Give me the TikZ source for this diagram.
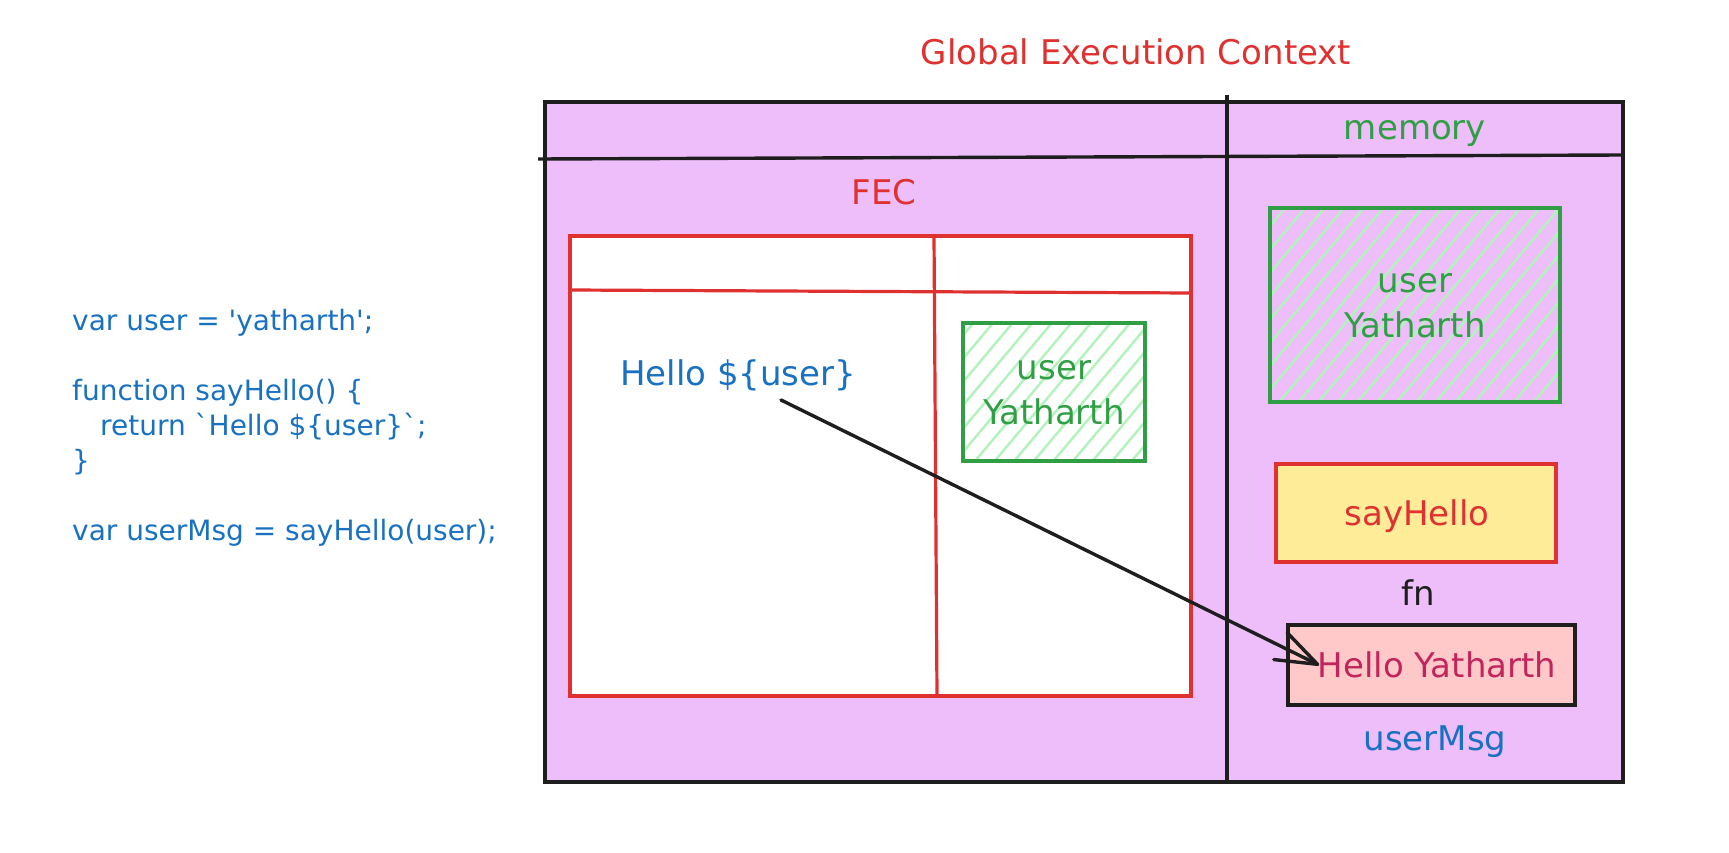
\documentclass[tikz,border=0pt]{standalone}
\usepackage{fontspec}
\newfontfamily\hand{DejaVu Sans}
\usetikzlibrary{patterns.meta,calc}
\definecolor{violetbg}{HTML}{EEBEFA}
\definecolor{exred}{HTML}{E03131}
\definecolor{exgreen}{HTML}{2F9E44}
\definecolor{hatchgreen}{HTML}{B2F2BB}
\definecolor{exblue}{HTML}{1971C2}
\definecolor{exyellow}{HTML}{FFEC99}
\definecolor{expink}{HTML}{FFC9C9}
\definecolor{exmagenta}{HTML}{C2255C}
\definecolor{exblack}{HTML}{1E1E1E}
\begin{document}
\begin{tikzpicture}[x=1pt,y=-1pt,
  txt/.style={inner sep=0pt, anchor=base, font=\hand\fontsize{34}{40}\selectfont},
  codetxt/.style={inner sep=0pt, anchor=base west, text=exblue, font=\hand\fontsize{28}{35}\selectfont},
  box/.style={draw, rectangle, inner sep=0pt, line width=3.4pt},
  hatched/.style={box, draw=exgreen, line width=3.4pt, pattern={Lines[angle=50,distance=15pt,line width=2.4pt]}, pattern color=hatchgreen},
  blackline/.style={draw=exblack, line width=3.4pt},
  redline/.style={draw=exred, line width=3.2pt},
  arrowline/.style={draw=exblack, line width=3.4pt, line cap=round, line join=round}
]
\useasboundingbox (0,0) rectangle (1729,853);
\fill[white] (0,0) rectangle (1729,853);

% outer global execution context box
\node[box, draw=exblack, fill=violetbg, minimum width=1078pt, minimum height=680pt] (gec) at (1084,442) {};
\draw[blackline] (1227,95) -- (1227,782);
\draw[blackline] (538,159) -- (1623,155);

% title and headings
\node[txt, text=exred] (title) at (1136,65) {Global Execution Context};
\node[txt, text=exgreen] (memory) at (1415,140) {memory};
\node[txt, text=exred] (fec) at (884,205) {FEC};

% FEC box
\node[box, draw=exred, fill=white, minimum width=621pt, minimum height=460pt] (fecbox) at (880.5,466) {};
\draw[redline] (934,236) -- (937,696);
\draw[redline] (570,290) -- (1191,293);

% FEC memory entry
\node[hatched, minimum width=182pt, minimum height=138pt] (fecuser) at (1054,392) {};
\node[txt, text=exgreen] (fecuname) at (1054,379) {user};
\node[txt, text=exgreen] (fecuval) at (1054,424) {Yatharth};

\node[txt, anchor=base west, text=exblue] (hellouser) at (620,385) {Hello \$\{user\}};

% global memory entries
\node[hatched, minimum width=290pt, minimum height=194pt] (memuser) at (1415,305) {};
\node[txt, text=exgreen] (memuname) at (1415,292) {user};
\node[txt, text=exgreen] (memuval) at (1415,337) {Yatharth};

\node[box, draw=exred, fill=exyellow, minimum width=280pt, minimum height=98pt] (sayhellobox) at (1416,513) {};
\node[txt, text=exred] (sayhello) at (1417,525) {sayHello};
\node[txt, text=exblack] (fn) at (1418,605) {fn};

\node[box, draw=exblack, fill=expink, minimum width=287pt, minimum height=80pt] (hybox) at (1431.5,665) {};
\node[txt, text=exmagenta] (hytext) at (1437,677) {Hello Yatharth};
\node[txt, text=exblue] (usermsg) at (1435,750) {userMsg};

% code
\node[codetxt] (code1) at (72,330) {var user = 'yatharth';};
\node[codetxt] (code2) at (72,400) {function sayHello() \{};
\node[codetxt] (code3) at (100,435) {return `Hello \$\{user\}`;};
\node[codetxt] (code4) at (72,470) {\}};
\node[codetxt] (code5) at (72,540) {var userMsg = sayHello(user);};

% arrow
\coordinate (astart) at (781,400);
\coordinate (atip) at (hytext.west);
\draw[arrowline] (astart) -- (atip);
\draw[arrowline] ($(atip)!44pt!20:(astart)$) -- (atip) -- ($(atip)!44pt!-20:(astart)$);
\end{tikzpicture}
\end{document}
